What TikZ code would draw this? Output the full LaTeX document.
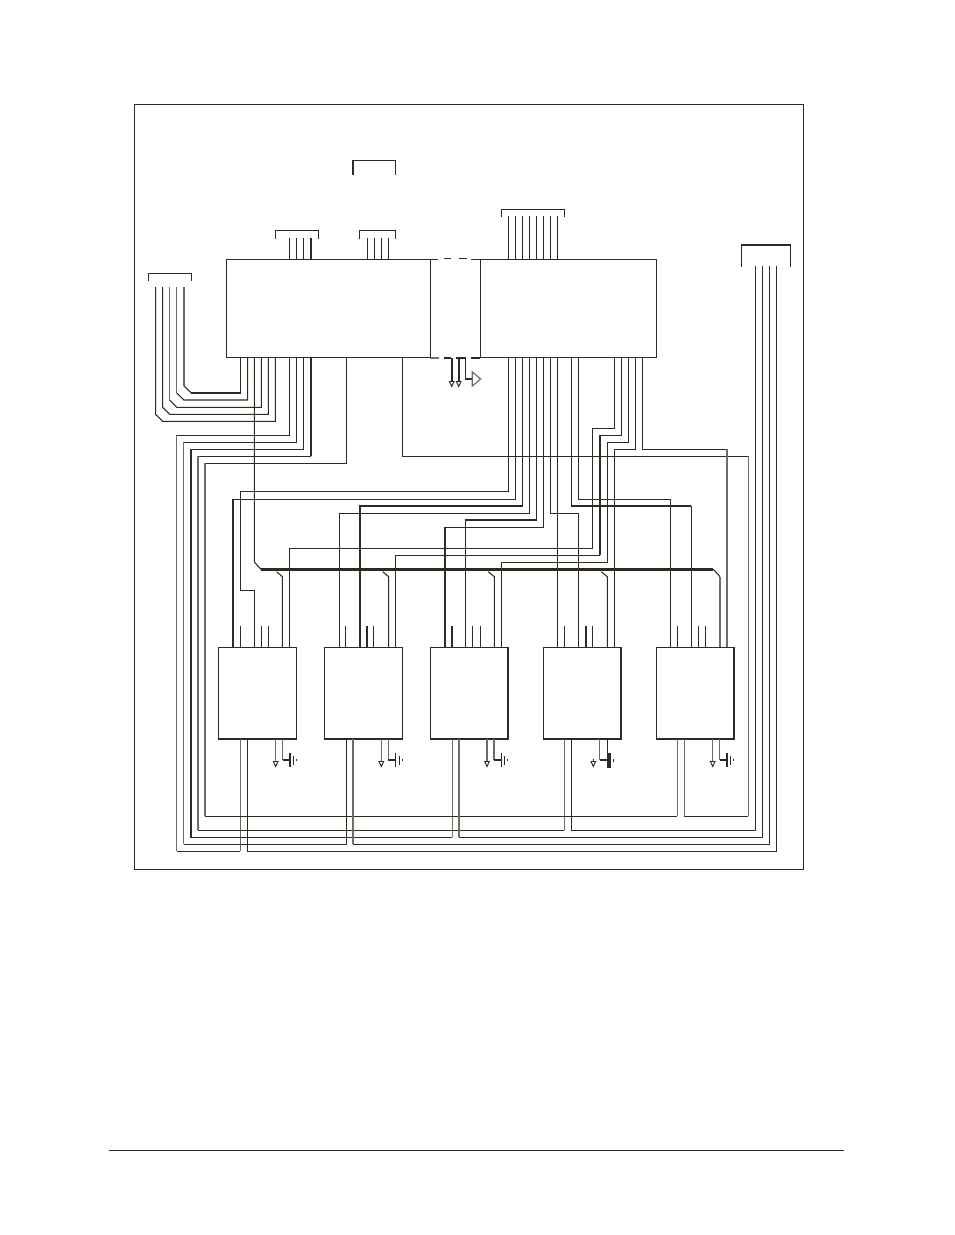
\documentclass[tikz,border=0pt]{standalone}
\definecolor{ink}{HTML}{2E2A22}
\definecolor{inkgrey}{HTML}{6E6C66}
\tikzset{
  wire/.style={line width=0.8pt,color=ink,line join=miter},
  thickwire/.style={line width=1.5pt,color=ink,line join=miter},
  greywire/.style={line width=1.2pt,color=inkgrey},
  softwire/.style={line width=0.85pt,color=inkgrey},
  mainblock/.style={draw=ink,line width=0.8pt,inner sep=0pt,outer sep=0pt,anchor=north west,
    minimum height=73.5pt},
  lowblock/.style={draw=ink,line width=1.1pt,inner sep=0pt,outer sep=0pt,anchor=north west,
    minimum width=58.2pt,minimum height=68.8pt},
  bus/.style={line width=2.6pt,color=ink},
  tip/.style={draw=ink,line width=0.7pt,fill=white},
}
\begin{document}
\begin{tikzpicture}[x=0.75pt,y=-0.75pt]
\useasboundingbox (0,0) rectangle (954,1235);
\fill[white] (0,0) rectangle (954,1235);
% frame and footer
\coordinate (fTL) at (134.5,104.5); \coordinate (fBR) at (803.5,869.5);
\draw[wire] (fTL) rectangle (fBR);
\coordinate (ruleL) at (109,1150.5); \coordinate (ruleR) at (844,1150.5);
\draw[wire] (ruleL) -- (ruleR);
% main blocks
\node[mainblock,minimum width=153pt] (A) at (226.3,259.3) {};
\node[mainblock,minimum width=132.3pt] (B) at (480.3,259.3) {};
% lower blocks
\node[lowblock] (b1) at (218.7,647.3) {};
\node[lowblock] (b2) at (324.7,647.3) {};
\node[lowblock] (b3) at (430.5,647.3) {};
\node[lowblock] (b4) at (543.5,647.3) {};
\node[lowblock] (b5) at (656.3,647.3) {};
% dashed top and bottom between main blocks
\draw[wire] (A.north east) -- (438.3,259.3);
\draw[wire] (444.3,258.8) -- (451,258.8);
\draw[wire] (459.3,258.8) -- (466.7,258.8);
\draw[wire] (471,259.3) -- (B.north west);
\draw[wire] (A.south east) ++(0,0.7) -- (439,358);
\draw[wire] (444,358) -- (451,358);
\draw[wire] (456,358) -- (466,358);
\draw[wire] (471,358) -- (480.3,358);
% connector brackets
\draw[wire] (352.7,175) -- (352.7,160.3) -- (395.7,160.3) -- (395.7,175);
\draw[thickwire,line width=1.3pt] (352.7,175) -- (352.7,161);
\draw[wire] (275.3,238.5) -- (275.3,230.3) -- (318.3,230.3) -- (318.3,238.5);
\draw[wire] (359.7,238.5) -- (359.7,230.3) -- (395.7,230.3) -- (395.7,238.5);
\draw[wire] (148.3,281) -- (148.3,273.7) -- (191.3,273.7) -- (191.3,281);
\draw[wire] (501.3,217) -- (501.3,209.3) -- (564.7,209.3) -- (564.7,217);
\draw[wire] (741.3,266.7) -- (741.3,244.7) -- (790.7,244.7) -- (790.7,266.7);
\draw[thickwire,line width=1.3pt] (741.3,244.7) -- (790.7,244.7);
% top pins
\foreach \x in {289.3,296.3,303.3,367.3,374.3,381.7,388.7}
  \draw[wire] (\x,237.7) -- (\x,0 |- A.north);
\draw[thickwire] (310.7,237.7) -- (310.7,0 |- A.north);
\foreach \x in {508.3,515.3,522.3,529.7,536.3,543.3,550.3,557.3}
  \draw[wire] (\x,216) -- (\x,0 |- B.north);
% left connector to block A
\draw[softwire] (184,287) -- (184,386);
\draw[wire] (184,386) -- (191.3,393);
\draw[thickwire] (191.3,393) -- (240.7,393);
\draw[wire] (240.7,393) -- (240.7,0 |- A.south);
\draw[softwire] (176.7,287) -- (176.7,393);
\draw[wire] (176.7,393) -- (184,400) -- (247.7,400) -- (247.7,0 |- A.south);
\draw[softwire] (169.7,287) -- (169.7,400);
\draw[wire] (169.7,400) -- (176.7,407.3) -- (261.3,407.3) -- (261.3,0 |- A.south);
\draw[wire] (162.7,287) -- (162.7,407.3) -- (169.7,414.3) -- (268.3,414.3) -- (268.3,0 |- A.south);
\draw[wire] (155.7,287) -- (155.7,414.3) -- (162.7,421.3) -- (275.3,421.3) -- (275.3,0 |- A.south);
% block A to the lower blocks
\draw[wire] (289.3,0 |- A.south) -- (289.3,435.3) -- (176.7,435.3);
\draw[softwire] (176.7,435.3) -- (176.7,851.3);
\draw[wire] (176.7,851.3) -- (240.3,851.3);
\draw[softwire] (240.3,851.3) -- (240.3,0 |- b1.south);
\draw[wire] (296.3,0 |- A.south) -- (296.3,442.3) -- (183.7,442.3);
\draw[softwire] (183.7,442.3) -- (183.7,844.3);
\draw[wire] (183.7,844.3) -- (346.3,844.3) -- (346.3,0 |- b2.south);
\draw[wire] (303.3,0 |- A.south) -- (303.3,449.3) -- (191,449.3) -- (191,837.3) -- (452.3,837.3);
\draw[softwire] (452.3,837.3) -- (452.3,0 |- b3.south);
\draw[thickwire] (310.7,0 |- A.south) -- (310.7,456.3);
\draw[wire] (310.7,456.3) -- (198,456.3);
\draw[softwire] (198,456.3) -- (198,830.3);
\draw[wire] (198,830.3) -- (564.3,830.3);
\draw[softwire] (564.3,830.3) -- (564.3,0 |- b4.south);
\draw[wire] (346.3,0 |- A.south) -- (346.3,463.3) -- (205,463.3);
\draw[softwire] (205,463.3) -- (205,816.3);
\draw[wire] (205,816.3) -- (677.3,816.3);
\draw[softwire] (677.3,816.3) -- (677.3,0 |- b5.south);
\draw[wire] (402.3,0 |- A.south) -- (402.3,456.3) -- (748.3,456.3);
\draw[softwire] (748.3,456.3) -- (748.3,816.3);
\draw[wire] (748.3,816.3) -- (684.3,816.3);
\draw[greywire] (684.3,816.3) -- (684.3,0 |- b5.south);
% right connector
\draw[wire] (755.3,265.7) -- (755.3,830.3) -- (571.7,830.3) -- (571.7,0 |- b4.south);
\draw[wire] (762.3,265.7) -- (762.3,837.3) -- (459,837.3);
\draw[greywire] (459,837.3) -- (459,0 |- b3.south);
\draw[wire] (769.3,265.7) -- (769.3,844.3) -- (353,844.3);
\draw[greywire] (353,844.3) -- (353,0 |- b2.south);
\draw[wire] (776.3,265.7) -- (776.3,851.3) -- (247.3,851.3) -- (247.3,0 |- b1.south);
% bus
\draw[wire] (254.3,0 |- A.south) -- (254.3,562) -- (261,569.3);
\draw[bus] (261,569.3) -- (713.3,569.3);
\draw[wire] (713.3,569.3) -- (720,576.7);
\draw[greywire] (720,576.7) -- (720,0 |- b5.north);
\draw[wire] (276.7,571.7) -- (282.3,576.7) -- (282.3,0 |- b1.north);
\draw[wire] (382.7,571.7) -- (388.7,576.7) -- (388.7,0 |- b2.north);
\draw[wire] (488.3,571.7) -- (494.3,576.7) -- (494.3,0 |- b3.north);
\draw[wire] (601.3,571.7) -- (607.3,576.7) -- (607.3,0 |- b4.north);
% block B to the five lower blocks
\draw[wire] (508.3,0 |- B.south) -- (508.3,491.3) -- (240.3,491.3) -- (240.3,590.3) -- (254.3,590.3) -- (254.3,0 |- b1.north);
\draw[wire] (515.3,0 |- B.south) -- (515.3,499.3) -- (233,499.3);
\draw[thickwire] (233,498.6) -- (233,0 |- b1.north);
\draw[wire] (522.3,0 |- B.south) -- (522.3,505.7);
\draw[thickwire] (523,505.7) -- (360,505.7) -- (360,0 |- b2.north);
\draw[wire] (529.7,0 |- B.south) -- (529.7,513.3) -- (339.3,513.3) -- (339.3,0 |- b2.north);
\draw[wire] (536.3,0 |- B.south) -- (536.3,520);
\draw[thickwire] (537,520) -- (465.3,520);
\draw[wire] (465.3,520) -- (465.3,0 |- b3.north);
\draw[wire] (543.3,0 |- B.south) -- (543.3,527.3) -- (445,527.3);
\draw[thickwire] (445,526.6) -- (445,0 |- b3.north);
\draw[wire] (550.3,0 |- B.south) -- (550.3,513.3) -- (578.3,513.3) -- (578.3,0 |- b4.north);
\draw[wire] (557.3,0 |- B.south) -- (557.3,0 |- b4.north);
\draw[wire] (571.3,0 |- B.south) -- (571.3,505.7);
\draw[thickwire] (570.6,505.7) -- (691.3,505.7);
\draw[wire] (691.3,505.7) -- (691.3,0 |- b5.north);
\draw[wire] (578.3,0 |- B.south) -- (578.3,499.3) -- (670.7,499.3) -- (670.7,0 |- b5.north);
\draw[wire] (614.3,0 |- B.south) -- (614.3,428.7) -- (592.3,428.7) -- (592.3,548.3) -- (289.3,548.3) -- (289.3,0 |- b1.north);
\draw[wire] (621.3,0 |- B.south) -- (621.3,435.3) -- (600,435.3);
\draw[thickwire] (600,434.6) -- (600,555.3);
\draw[wire] (600,555.3) -- (395.3,555.3) -- (395.3,0 |- b2.north);
\draw[wire] (628.3,0 |- B.south) -- (628.3,442.3) -- (607.3,442.3) -- (607.3,562.3) -- (501.3,562.3) -- (501.3,0 |- b3.north);
\draw[wire] (635.3,0 |- B.south) -- (635.3,449.3) -- (614.3,449.3) -- (614.3,0 |- b4.north);
\draw[wire] (642.3,0 |- B.south) -- (642.3,449.3) -- (727,449.3);
\draw[greywire] (727,449.3) -- (727,0 |- b5.north);
% short pins
\foreach \x in {240.3,261.3,268.3,345.3,373.3,472.7,480.3,564.3,592.3,677.3,698.3,705.3}
  \draw[wire] (\x,625.7) -- (\x,647.3);
\foreach \x in {366.7,452,585.7}
  \draw[thickwire] (\x,625.7) -- (\x,647.3);
% power pins under lower blocks
\foreach \a/\g/\s/\n in {275.7/282.7/290/b1,381.3/388.3/395.7/b2,487/494/501.3/b3,712.7/719.7/727/b5}{
  \draw[greywire,line width=1pt] (\a,0 |- \n.south) -- (\a,761);
  \draw[tip] (\a-2.3,761.5) -- (\a+2.3,761.5) -- (\a,766.5) -- cycle;
  \draw[greywire,line width=1pt] (\g,0 |- \n.south) -- (\g,760);
  \draw[wire] (\g,760) -- (\s,760);
  \draw[wire] (\s,752.7) -- (\s,767.3);
  \draw[wire] (\s+3.5,755.5) -- (\s+3.5,764.5);
  \draw[wire,line width=1pt] (\s+6.5,759) -- (\s+6.5,761);
}
% block 4 power pins
\draw[greywire,line width=1pt] (599.7,0 |- b4.south) -- (599.7,760);
\draw[wire] (599.7,760) -- (607.3,760);
\draw[tip] (591,761.5) -- (595.6,761.5) -- (593.3,766.5) -- cycle;
\draw[wire] (593.3,758.5) -- (593.3,761.5);
\draw[wire] (607.3,0 |- b4.south) -- (607.3,768);
\draw[thickwire,line width=2.4pt] (609,753) -- (609,768);
\draw[wire,line width=1pt] (613.5,759) -- (613.5,761.5);
% middle gap arrows
\draw[thickwire] (451.7,358) -- (451.7,381);
\draw[thickwire] (458.7,358) -- (458.7,381);
\draw[tip] (449.4,381.5) -- (454,381.5) -- (451.7,386.5) -- cycle;
\draw[tip] (456.4,381.5) -- (461,381.5) -- (458.7,386.5) -- cycle;
\draw[wire] (465.3,358) -- (465.3,378.7);
\draw[thickwire,line width=1.2pt] (465.3,378.7) -- (472.3,378.7);
\draw[tip,draw=inkgrey,line width=0.9pt] (472.3,372) -- (480.7,379) -- (472.3,386) -- cycle;
\end{tikzpicture}
\end{document}
